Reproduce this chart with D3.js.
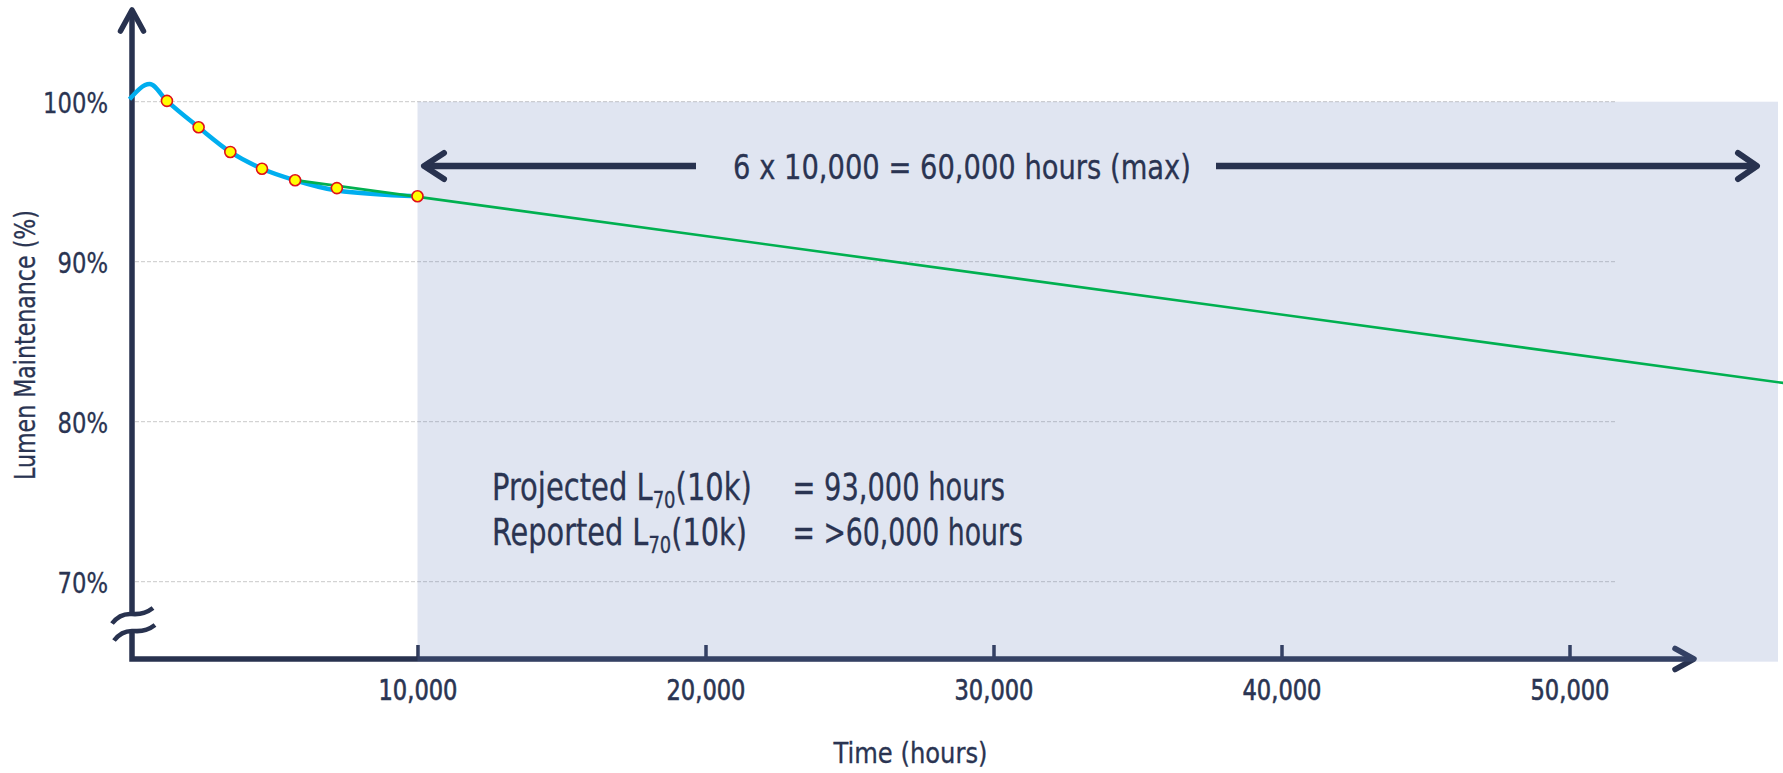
<!DOCTYPE html>
<html><head><meta charset="utf-8">
<script src="https://cdn.jsdelivr.net/npm/d3@7"></script>
<style>
html,body{margin:0;padding:0;background:#fff;overflow:hidden}
text{font-family:"Liberation Sans Narrow","Arial Narrow","DejaVu Sans Condensed","Liberation Sans",sans-serif;fill:#2a3452}
</style>
</head><body>
<svg id="c" width="1783" height="773"></svg>
<script>
// ---------- data ----------
const xTicks = [10000, 20000, 30000, 40000, 50000];
const yTicks = [70, 80, 90, 100];
const measuredHours = [1300, 2400, 3500, 4600, 5750, 7200, 10000];
const measuredLumen = [100.05, 98.4, 96.86, 95.81, 95.09, 94.6, 94.09];
const curveHours = [0, 700, 1300, 2400, 3500, 4600, 5750, 7200, 10000];
const curveLumen = [100.15, 101.1, 100.05, 98.4, 96.86, 95.81, 95.09, 94.45, 94.09];
const projHours = [5750, 58000];
const projLumen = [95.1, 82.28];
const shadeStartHours = 10000;
const gridEndHours = 51600;
const xTitle = "Time (hours)";
const yTitle = "Lumen Maintenance (%)";
const spanLabel = "6 x 10,000 = 60,000 hours (max)";
const resultNames = ["Projected L", "Reported L"];
const resultSubs = ["70", "70"];
const resultTails = ["(10k)", "(10k)"];
const resultValues = ["= 93,000 hours", "= >60,000 hours"];

// ---------- setup ----------
const navy = "#28324f";
const svg = d3.select("#c");
const x = d3.scaleLinear().domain([0, 50000]).range([129.5, 1569.5]);
const y = d3.scaleLinear().domain([70, 100]).range([581.7, 101.7]);
const axisX = 132, axisY = 659;

function stretch(t, target, ax, extra) {
  const w = t.node().getBBox().width;
  const k = target / w;
  t.attr("transform", (extra || "") + `translate(${ax},0) scale(${k},1) translate(${-ax},0)`);
  return k;
}

// gridlines
svg.append("g").selectAll("line").data(yTicks).join("line")
  .attr("x1", 135).attr("x2", x(gridEndHours))
  .attr("y1", d => y(d)).attr("y2", d => y(d))
  .attr("stroke", "#c9c9c9").attr("stroke-width", 1).attr("stroke-dasharray", "4,2");

// axes
const ax = svg.append("g");
ax.append("path").attr("d", `M${axisX},12 V${axisY} H1692`)
  .attr("fill", "none").attr("stroke", navy).attr("stroke-width", 5.5).attr("stroke-linejoin", "miter");
ax.append("path").attr("d", "M120.5,31 L132,10 L143.5,31")
  .attr("fill", "none").attr("stroke", navy).attr("stroke-width", 5.5)
  .attr("stroke-linecap", "round").attr("stroke-linejoin", "round");
ax.append("path").attr("d", "M1675,648.5 L1694,659 L1675,669.5")
  .attr("fill", "none").attr("stroke", navy).attr("stroke-width", 5.5)
  .attr("stroke-linecap", "round").attr("stroke-linejoin", "round");
// break
ax.append("rect").attr("x", 126).attr("y", 614.5).attr("width", 12).attr("height", 16.5).attr("fill", "#fff");
ax.append("path").attr("d", "M112,623.5 Q120,613 132,614 T153,608")
  .attr("fill", "none").attr("stroke", navy).attr("stroke-width", 4.5);
ax.append("path").attr("d", "M114,640.5 Q122,630 134,631 T155,625")
  .attr("fill", "none").attr("stroke", navy).attr("stroke-width", 4.5);

// x axis ticks + labels
const gx = svg.append("g").attr("transform", `translate(0,${axisY})`)
  .call(d3.axisBottom(x).tickValues(xTicks).tickSize(-14).tickFormat(d3.format(",")));
gx.select(".domain").remove();
gx.selectAll(".tick line").attr("stroke", navy).attr("stroke-width", 3.5);
const xt = gx.selectAll(".tick text").attr("y", 41).attr("dy", null)
  .attr("font-size", 28).attr("fill", "#2a3452").style("font-family", null)
  .attr("stroke", "#2a3452").attr("stroke-width", 0.6);
{
  const k = 79 / xt.node().getBBox().width;
  xt.attr("transform", `scale(${k},1)`);
}

// y axis labels
const gy = svg.append("g").attr("transform", `translate(${axisX},0)`)
  .call(d3.axisLeft(y).tickValues(yTicks).tickSize(0).tickFormat(d => d + "%"));
gy.select(".domain").remove();
const yt = gy.selectAll(".tick text").attr("x", 0).attr("dy", "0.36em")
  .attr("font-size", 29).attr("fill", "#2a3452").style("font-family", null)
  .attr("stroke", "#2a3452").attr("stroke-width", 0.3);
{
  const n = yt.filter(d => d === 100).node();
  const k = 65 / n.getBBox().width;
  yt.attr("transform", `translate(-24,0) scale(${k},1)`);
}

// shade overlay
svg.append("rect")
  .attr("x", x(shadeStartHours)).attr("y", y(100))
  .attr("width", 1778 - x(shadeStartHours)).attr("height", 661.7 - y(100))
  .attr("fill", "rgb(100,126,184)").attr("fill-opacity", 0.2);

// blue measured curve
const curvePts = curveHours.map((h, i) => [h, curveLumen[i]]);
svg.append("path").datum(curvePts)
  .attr("d", d3.line().x(d => x(d[0])).y(d => y(d[1])).curve(d3.curveMonotoneX))
  .attr("fill", "none").attr("stroke", "#00aeef").attr("stroke-width", 4.5);

// green projection
const projPts = projHours.map((h, i) => [h, projLumen[i]]);
svg.append("path").datum(projPts)
  .attr("d", d3.line().x(d => x(d[0])).y(d => y(d[1])))
  .attr("fill", "none").attr("stroke", "#00b050").attr("stroke-width", 2.6);

// markers
svg.append("g").selectAll("circle").data(measuredHours.map((h, i) => [h, measuredLumen[i]])).join("circle")
  .attr("cx", d => x(d[0])).attr("cy", d => y(d[1])).attr("r", 5.5)
  .attr("fill", "#ffff00").attr("stroke", "#e0101a").attr("stroke-width", 1.6);

// span annotation
const ann = svg.append("g");
ann.append("line").attr("x1", 425).attr("x2", 696).attr("y1", 166).attr("y2", 166)
  .attr("stroke", navy).attr("stroke-width", 6.5);
ann.append("line").attr("x1", 1216).attr("x2", 1755).attr("y1", 166).attr("y2", 166)
  .attr("stroke", navy).attr("stroke-width", 6.5);
ann.append("path").attr("d", "M444,153 L424,166 L444,179")
  .attr("fill", "none").attr("stroke", navy).attr("stroke-width", 6)
  .attr("stroke-linecap", "round").attr("stroke-linejoin", "round");
ann.append("path").attr("d", "M1738,153 L1757,166 L1738,179")
  .attr("fill", "none").attr("stroke", navy).attr("stroke-width", 6)
  .attr("stroke-linecap", "round").attr("stroke-linejoin", "round");
const st = ann.append("text").attr("x", 962).attr("y", 179).attr("text-anchor", "middle")
  .attr("font-size", 34).attr("stroke", "#2a3452").attr("stroke-width", 0.3).text(spanLabel);
stretch(st, 458, 962);

// result rows
const rowBase = [500, 545];
const nameW = [260, 255];
const valW = [212.5, 230.5];
resultNames.forEach((nm, i) => {
  const t = svg.append("text").attr("x", 492).attr("y", rowBase[i]).attr("font-size", 37)
    .attr("stroke", "#2a3452").attr("stroke-width", 0.3);
  t.append("tspan").text(nm);
  t.append("tspan").attr("font-size", 23).attr("dy", 8).text(resultSubs[i]);
  t.append("tspan").attr("dy", -8).text(resultTails[i]);
  stretch(t, nameW[i], 492);
  const v = svg.append("text").attr("x", 792.5).attr("y", rowBase[i]).attr("font-size", 37)
    .attr("stroke", "#2a3452").attr("stroke-width", 0.3).text(resultValues[i]);
  stretch(v, valW[i], 792.5);
});

// axis titles
const xtT = svg.append("text").attr("x", 910.5).attr("y", 763).attr("text-anchor", "middle")
  .attr("font-size", 28).attr("stroke", "#2a3452").attr("stroke-width", 0.3).text(xTitle);
stretch(xtT, 155, 910.5);
const ytT = svg.append("text").attr("x", 0).attr("y", 0).attr("text-anchor", "middle")
  .attr("font-size", 29).attr("stroke", "#2a3452").attr("stroke-width", 0.3).text(yTitle);
{
  const k = 270 / ytT.node().getBBox().width;
  ytT.attr("transform", `translate(35,345) rotate(-90) scale(${k},1)`);
}
</script>
</body></html>
